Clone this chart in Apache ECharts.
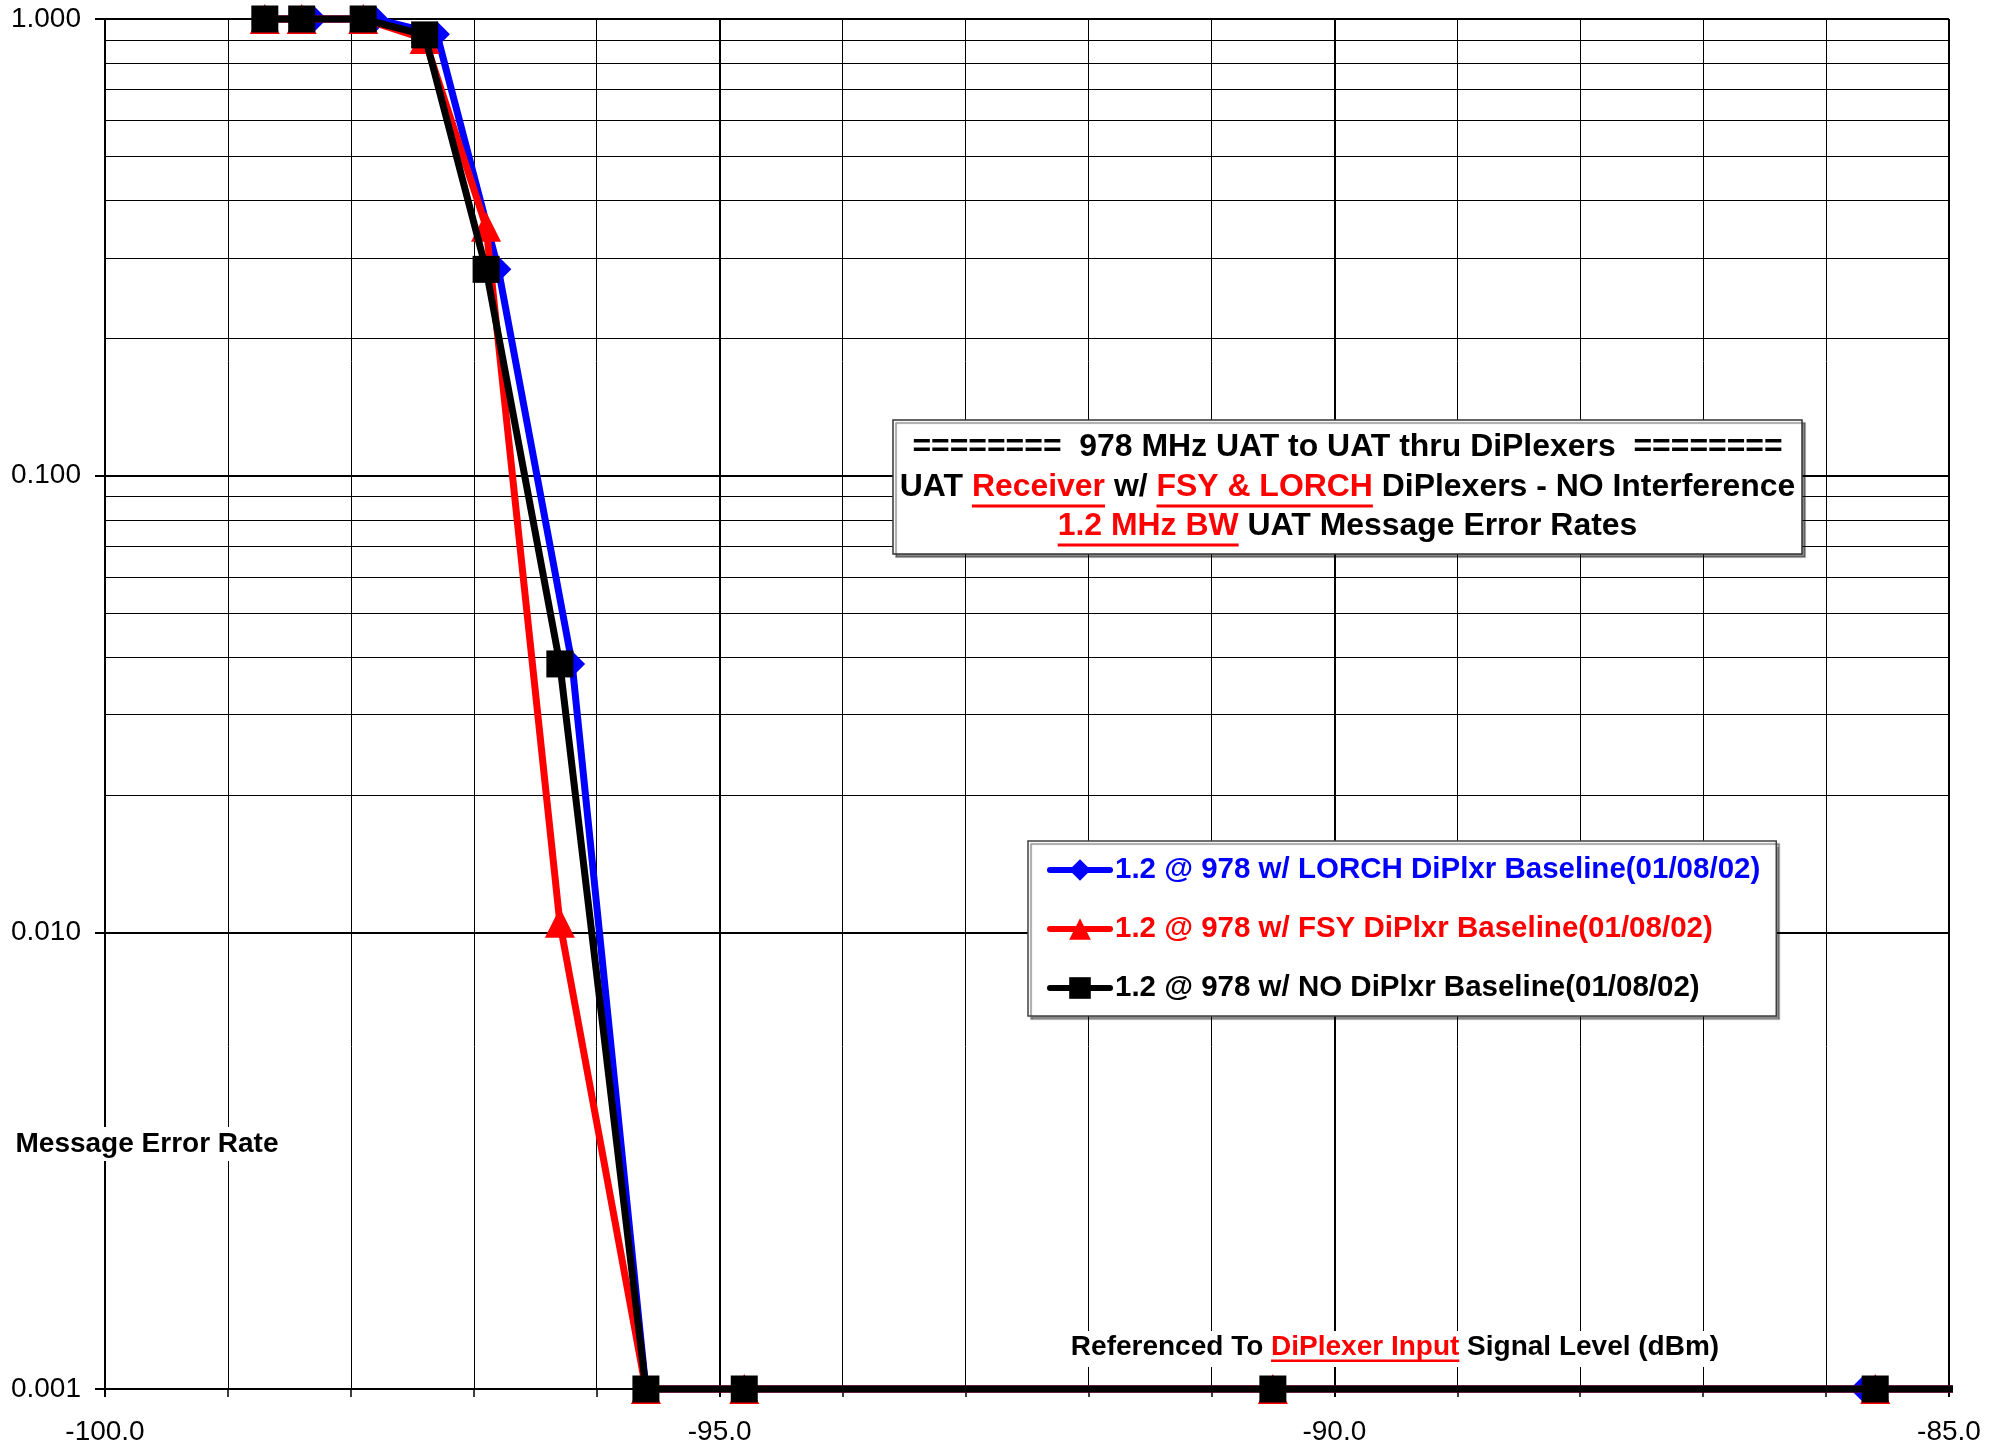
<!DOCTYPE html>
<html>
<head>
<meta charset="utf-8">
<title>978 MHz UAT Message Error Rates</title>
<script src="https://cdn.jsdelivr.net/npm/echarts@6/dist/echarts.min.js"></script>
<style>
  html, body { margin: 0; padding: 0; background: #ffffff; }
  #chart { width: 2007px; height: 1450px; }
</style>
</head>
<body>
<div id="chart"></div>
<script>
// ---- Data -------------------------------------------------------------
const seriesNames = [
  '1.2 @ 978 w/ LORCH DiPlxr Baseline(01/08/02)',
  '1.2 @ 978 w/ FSY DiPlxr Baseline(01/08/02)',
  '1.2 @ 978 w/ NO DiPlxr Baseline(01/08/02)'
];
const seriesColors = ['#0000ff', '#ff0000', '#000000'];
const seriesSymbols = ['diamond', 'triangle', 'rect'];

// Signal level (dBm) and message error rate; the last entry of each trace
// is where the trace ends at the plot edge and carries no marker.
const lorchLevel = [-98.7, -98.3, -97.8, -97.3, -96.8, -96.2, -95.6, -94.8, -90.5, -85.7, -84.9];
const lorchRate  = [1.000, 1.000, 1.000, 0.926, 0.283, 0.0387, 0.001, 0.001, 0.001, 0.001, 0.001];
const fsyLevel   = [-98.7, -98.4, -97.9, -97.4, -96.9, -96.3, -95.6, -94.8, -90.5, -85.6, -84.9];
const fsyRate    = [1.000, 1.000, 1.000, 0.904, 0.351, 0.0105, 0.001, 0.001, 0.001, 0.001, 0.001];
const noDplxLevel = [-98.7, -98.4, -97.9, -97.4, -96.9, -96.3, -95.6, -94.8, -90.5, -85.6, -84.9];
const noDplxRate  = [1.000, 1.000, 1.000, 0.923, 0.283, 0.0387, 0.001, 0.001, 0.001, 0.001, 0.001];

// Axes
const levelMin = -100, levelMax = -85, levelMajorStep = 5, levelMinorSplit = 5;
const rateMin = 0.001, rateMax = 1;
const rateDecades = [0.001, 0.01, 0.1];
const rateMinorMultiples = [2, 3, 4, 5, 6, 7, 8, 9];

// Text blocks
const FONT_FAMILY = '"Liberation Sans", Arial, Helvetica, sans-serif';
const RED = '#ff0000', BLACK = '#000000';
const headerLines = [
  [{ text: '========  978 MHz UAT to UAT thru DiPlexers  ========', color: BLACK }],
  [
    { text: 'UAT ', color: BLACK },
    { text: 'Receiver', color: RED, underline: true },
    { text: ' w/ ', color: BLACK },
    { text: 'FSY & LORCH', color: RED, underline: true },
    { text: ' DiPlexers - NO Interference', color: BLACK }
  ],
  [
    { text: '1.2 MHz BW', color: RED, underline: true },
    { text: ' UAT Message Error Rates', color: BLACK }
  ]
];
const levelTitle = [
  { text: 'Referenced To ', color: BLACK },
  { text: 'DiPlexer Input', color: RED, underline: true },
  { text: ' Signal Level (dBm)', color: BLACK }
];
const rateTitle = 'Message Error Rate';

// ---- Helpers ----------------------------------------------------------
function toData(levels, rates) {
  return levels.map(function (x, i) {
    if (i === levels.length - 1) {
      return { value: [x, rates[i]], symbol: 'none' };
    }
    return [x, rates[i]];
  });
}

const measureCtx = document.createElement('canvas').getContext('2d');
function textWidth(str, font) {
  measureCtx.font = font;
  return measureCtx.measureText(str).width;
}

// A single line of mixed-colour text, centred on (cx, cy), with optional underlines.
function textLine(segments, cx, cy, font, scaleX, ulY, ulH, background, z) {
  const widths = segments.map(function (s) { return textWidth(s.text, font); });
  const total = widths.reduce(function (a, b) { return a + b; }, 0);
  const children = [];
  if (background) {
    children.push({
      type: 'rect',
      z: z,
      shape: { x: -total / 2 - 9, y: -16, width: total + 18, height: 36 },
      style: { fill: '#ffffff' }
    });
  }
  let x = -total / 2;
  segments.forEach(function (s, i) {
    children.push({
      type: 'text',
      z: z + 1,
      x: x, y: 0,
      style: {
        text: s.text, font: font, fill: s.color,
        align: 'left', verticalAlign: 'middle',
        textAlign: 'left', textVerticalAlign: 'middle'
      }
    });
    if (s.underline) {
      children.push({
        type: 'rect',
        z: z + 1,
        shape: { x: x, y: ulY, width: widths[i], height: ulH },
        style: { fill: s.color }
      });
    }
    x += widths[i];
  });
  return { type: 'group', x: cx, y: cy, scaleX: scaleX, scaleY: 1, z: z, children: children };
}

// ---- Chart ------------------------------------------------------------
const chart = echarts.init(document.getElementById('chart'), null, { renderer: 'canvas' });

const minorRateLines = [];
rateDecades.forEach(function (d) {
  rateMinorMultiples.forEach(function (m) {
    minorRateLines.push({ yAxis: +(d * m).toPrecision(3) });
  });
});

const traceData = [
  toData(lorchLevel, lorchRate),
  toData(fsyLevel, fsyRate),
  toData(noDplxLevel, noDplxRate)
];
const symbolSizes = [[26, 26], [30, 30], [27, 27]];

const series = [{
  name: 'rate-grid',
  type: 'line',
  data: [],
  silent: true,
  z: 1,
  markLine: {
    silent: true,
    z: 1,
    symbol: 'none',
    animation: false,
    label: { show: false },
    emphasis: { disabled: true },
    lineStyle: { color: '#000000', width: 1, type: 'solid' },
    data: minorRateLines
  }
}];
seriesNames.forEach(function (name, i) {
  series.push({
    name: name,
    type: 'line',
    data: traceData[i],
    symbol: seriesSymbols[i],
    symbolSize: symbolSizes[i],
    showAllSymbol: true,
    clip: false,
    z: 3 + i,
    lineStyle: { color: seriesColors[i], width: 7 },
    itemStyle: { color: seriesColors[i], borderWidth: 0 },
    emphasis: { disabled: true }
  });
});

const graphics = [];
// Header box
const boxX = 893, boxY = 420, boxW = 909, boxH = 134;
graphics.push({
  type: 'rect',
  z: 30,
  shape: { x: boxX, y: boxY, width: boxW, height: boxH },
  style: {
    fill: '#ffffff', stroke: '#333333', lineWidth: 1.5,
    shadowColor: 'rgba(0,0,0,0.45)', shadowOffsetX: 3, shadowOffsetY: 3, shadowBlur: 1
  }
});
const headerFont = 'bold 31px ' + FONT_FAMILY;
const headerCy = [447, 487, 526];
headerLines.forEach(function (segs, i) {
  graphics.push(textLine(segs, boxX + boxW / 2, headerCy[i], headerFont, 1.03, 17.5, 3, false, 31));
});
// Axis titles
graphics.push(textLine(levelTitle, 1395, 1347, 'bold 28px ' + FONT_FAMILY, 1, 12.5, 2.5, true, 30));
graphics.push({
  type: 'text',
  z: 31,
  x: 147, y: 1144,
  style: {
    text: rateTitle,
    font: 'bold 28px ' + FONT_FAMILY,
    fill: BLACK,
    align: 'center', verticalAlign: 'middle',
    textAlign: 'center', textVerticalAlign: 'middle',
    backgroundColor: '#ffffff',
    padding: [3, 4]
  }
});

const option = {
  animation: false,
  backgroundColor: '#ffffff',
  grid: { left: 105, right: 58, top: 19, bottom: 61, containLabel: false },
  legend: {
    orient: 'vertical',
    z: 30,
    left: 1028,
    top: 841,
    padding: [14, 16, 13, 19],
    itemWidth: 60,
    itemHeight: 27,
    itemGap: 29,
    selectedMode: false,
    backgroundColor: '#ffffff',
    borderColor: '#404040',
    borderWidth: 1.5,
    shadowColor: 'rgba(0,0,0,0.45)',
    shadowOffsetX: 3,
    shadowOffsetY: 3,
    shadowBlur: 1,
    lineStyle: { width: 6, cap: 'round' },
    textStyle: {
      fontFamily: FONT_FAMILY,
      fontWeight: 'bold',
      fontSize: 29.5,
      lineHeight: 30
    },
    data: seriesNames.map(function (n, i) {
      return { name: n, textStyle: { color: seriesColors[i] } };
    })
  },
  xAxis: {
    type: 'value',
    min: levelMin,
    max: levelMax,
    interval: levelMajorStep,
    axisLine: { show: true, onZero: false, lineStyle: { color: '#000', width: 2 } },
    axisTick: { show: true, length: 8, lineStyle: { color: '#000', width: 2 } },
    minorTick: { show: true, splitNumber: levelMinorSplit, length: 8, lineStyle: { color: '#000', width: 1.5 } },
    splitLine: { show: true, lineStyle: { color: '#000', width: 2 } },
    minorSplitLine: { show: true, lineStyle: { color: '#000', width: 1 } },
    axisLabel: {
      margin: 29,
      color: '#000',
      fontFamily: FONT_FAMILY,
      fontSize: 28,
      formatter: function (v) { return v.toFixed(1); }
    }
  },
  yAxis: {
    type: 'log',
    logBase: 10,
    min: rateMin,
    max: rateMax,
    splitNumber: 3,
    axisLine: { show: true, lineStyle: { color: '#000', width: 2 } },
    axisTick: { show: true, length: 10, lineStyle: { color: '#000', width: 2 } },
    splitLine: { show: true, lineStyle: { color: '#000', width: 2 } },
    axisLabel: {
      margin: 24,
      color: '#000',
      fontFamily: FONT_FAMILY,
      fontSize: 28,
      formatter: function (v) { return Number(v).toFixed(3); }
    }
  },
  series: series,
  graphic: graphics
};

chart.setOption(option);
</script>
</body>
</html>
